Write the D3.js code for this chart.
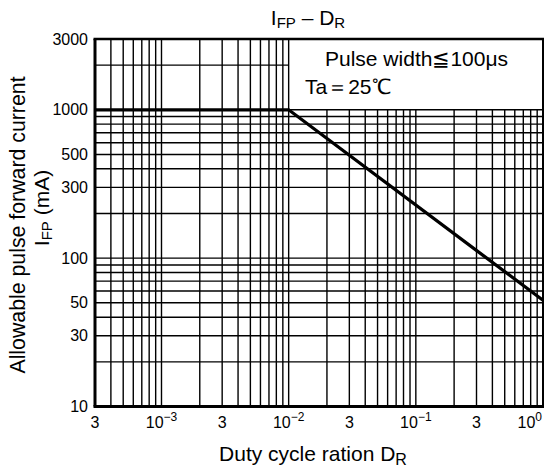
<!DOCTYPE html>
<html>
<head>
<meta charset="utf-8">
<script src="https://cdn.jsdelivr.net/npm/d3@7"></script>
<style>
  body { margin: 0; background: #fff; }
  text { font-family: "Liberation Sans", Arial, sans-serif; fill: #000; }
</style>
</head>
<body>
<div id="chart-area"></div>
<script>
const width = 555;
const height = 472;

// data
const dutyCycle = [3e-4, 1e-2, 1];
const currentMA = [1000, 1000, 52];

const xTicks = [3e-4, 1e-3, 3e-3, 1e-2, 3e-2, 1e-1, 3e-1, 1];
const xTickBase = ["3", "10", "3", "10", "3", "10", "3", "10"];
const xTickExp = ["", "\u22123", "", "\u22122", "", "\u22121", "", "0"];
const yTicks = [10, 30, 50, 100, 300, 500, 1000, 3000];

const svg = d3.select("#chart-area")
    .append("svg")
    .attr("width", width)
    .attr("height", height);

const x = d3.scaleLog().domain([3e-4, 1]).range([95, 543]);
const y = d3.scaleLog().domain([10, 3000]).range([406.5, 39]);

// grid positions: every 1..9 step inside the domains
const xGrid = [];
for (let e = -4; e <= 0; e++) {
    for (let m = 1; m <= 9; m++) {
        const v = m * Math.pow(10, e);
        if (v > 3e-4 * 1.001 && v < 0.999) xGrid.push(v);
    }
}
const yGrid = [];
for (let e = 1; e <= 3; e++) {
    for (let m = 1; m <= 9; m++) {
        const v = m * Math.pow(10, e);
        if (v > 10.01 && v < 2999) yGrid.push(v);
    }
}

const knee = 1e-2;
const grid = svg.append("g")
    .attr("stroke", "#000")
    .attr("stroke-width", 1.4);

// vertical lines: right of the knee they stop at 1000 (legend area)
grid.selectAll(".vg")
    .data(xGrid)
    .enter().append("line")
    .attr("class", "vg")
    .attr("x1", d => x(d)).attr("x2", d => x(d))
    .attr("y1", d => d <= knee * 1.001 ? y(3000) : y(1000))
    .attr("y2", y(10));

grid.selectAll(".hg")
    .data(yGrid)
    .enter().append("line")
    .attr("class", "hg")
    .attr("x1", x(3e-4))
    .attr("x2", d => d > 1000 ? x(knee) : x(1))
    .attr("y1", d => y(d)).attr("y2", d => y(d));

// frame
const frame = svg.append("g").attr("stroke", "#000").attr("fill", "none");
frame.append("line").attr("x1", x(3e-4) - 1.5).attr("x2", x(1) + 1)
    .attr("y1", y(3000)).attr("y2", y(3000)).attr("stroke-width", 2.6);
frame.append("line").attr("x1", x(3e-4) - 1.5).attr("x2", x(1) + 1)
    .attr("y1", y(10)).attr("y2", y(10)).attr("stroke-width", 3);
frame.append("line").attr("x1", x(3e-4)).attr("x2", x(3e-4))
    .attr("y1", y(3000)).attr("y2", y(10)).attr("stroke-width", 3);
frame.append("line").attr("x1", x(1)).attr("x2", x(1))
    .attr("y1", y(3000)).attr("y2", y(10)).attr("stroke-width", 2);

// data line
const pts = dutyCycle.map((d, i) => [d, currentMA[i]]);
svg.append("path")
    .datum(pts)
    .attr("fill", "none")
    .attr("stroke", "#000")
    .attr("stroke-width", 3.3)
    .attr("d", d3.line().x(d => x(d[0])).y(d => y(d[1])));

// y tick labels
svg.selectAll(".ylab")
    .data(yTicks)
    .enter().append("text")
    .attr("class", "ylab")
    .attr("x", 88)
    .attr("y", d => y(d) + 5.5)
    .attr("text-anchor", "end")
    .attr("font-size", 16)
    .text(d => d);

// x tick labels
const xl = svg.selectAll(".xlab")
    .data(xTicks)
    .enter().append("text")
    .attr("class", "xlab")
    .attr("x", (d, i) => i === xTicks.length - 1 ? x(d) - 1 : x(d))
    .attr("y", 428)
    .attr("text-anchor", (d, i) => i === xTicks.length - 1 ? "end" : "middle")
    .attr("font-size", 16);
xl.append("tspan").text((d, i) => xTickBase[i]);
xl.append("tspan")
    .attr("font-size", 12)
    .attr("dy", -7)
    .text((d, i) => xTickExp[i]);

// title
const title = svg.append("text")
    .attr("x", 308).attr("y", 25)
    .attr("text-anchor", "middle")
    .attr("font-size", 21);
title.append("tspan").text("I");
title.append("tspan").attr("font-size", 15).attr("dy", 3).text("FP");
title.append("tspan").attr("dy", -3).text(" \u2013 D");
title.append("tspan").attr("font-size", 15).attr("dy", 3).text("R");

// x axis title
const xt = svg.append("text")
    .attr("x", 313).attr("y", 461)
    .attr("text-anchor", "middle")
    .attr("font-size", 21);
xt.append("tspan").text("Duty cycle ration D");
xt.append("tspan").attr("font-size", 16).attr("dy", 4).text("R");

// y axis title (two lines)
svg.append("text")
    .attr("transform", "translate(25,225) rotate(-90)")
    .attr("text-anchor", "middle")
    .attr("font-size", 21.3)
    .text("Allowable pulse forward current");
const yt2 = svg.append("text")
    .attr("transform", "translate(49,208) rotate(-90)")
    .attr("text-anchor", "middle")
    .attr("font-size", 21);
yt2.append("tspan").text("I");
yt2.append("tspan").attr("font-size", 15).attr("dy", 3).text("FP");
yt2.append("tspan").attr("dy", -3).text(" (mA)");

// conditions
svg.append("text")
    .attr("x", 325).attr("y", 66)
    .attr("font-size", 21)
    .text("Pulse width\u2266100\u03bcs");
svg.append("text")
    .attr("x", 305).attr("y", 94)
    .attr("font-size", 21)
    .text("Ta\uff1d25\u2103");
</script>
</body>
</html>
